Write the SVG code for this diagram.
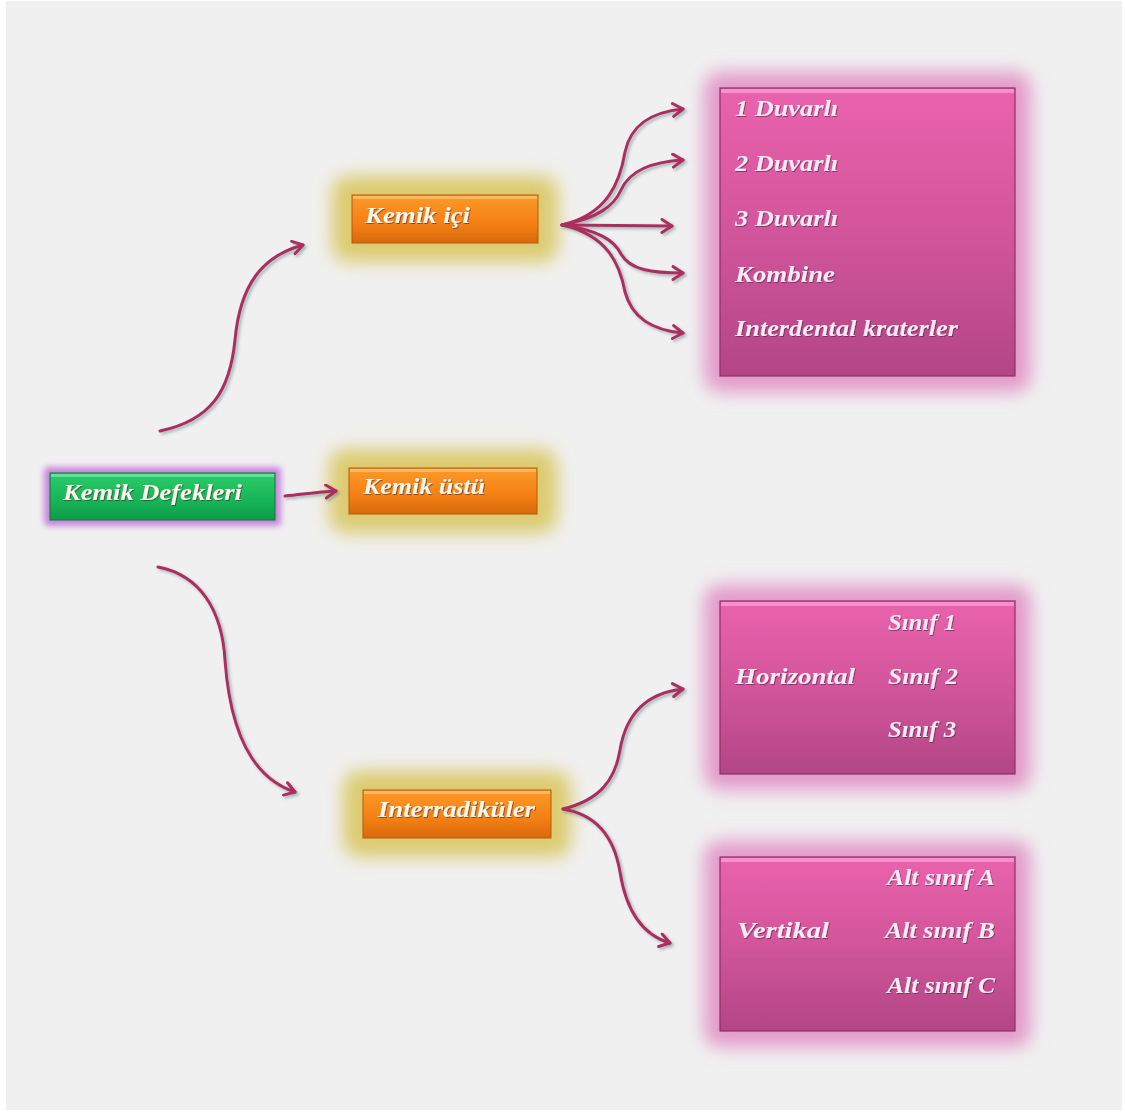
<svg xmlns="http://www.w3.org/2000/svg" width="1125" height="1113" viewBox="0 0 1125 1113">
<defs>
<style>
.t{font-family:"Liberation Serif","Times New Roman",serif;font-style:italic;font-weight:bold;font-size:23px;fill:#fff6ec;filter:url(#tsh)}
.tp{fill:#fdeaf6}
.c{fill:none;stroke:#ab2f5e;stroke-width:3;stroke-linecap:round;marker-end:url(#ah)}
</style>
<linearGradient id="gPink" x1="0" y1="0" x2="0" y2="1">
<stop offset="0" stop-color="#ea62ad"/>
<stop offset="0.5" stop-color="#d2559b"/>
<stop offset="1" stop-color="#b24685"/>
</linearGradient>
<linearGradient id="gOr" x1="0" y1="0" x2="0" y2="1">
<stop offset="0" stop-color="#fb9a2a"/>
<stop offset="0.6" stop-color="#f47f14"/>
<stop offset="1" stop-color="#d86a0c"/>
</linearGradient>
<linearGradient id="gGr" x1="0" y1="0" x2="0" y2="1">
<stop offset="0" stop-color="#2ccb6a"/>
<stop offset="0.6" stop-color="#16b457"/>
<stop offset="1" stop-color="#0f9a48"/>
</linearGradient>
<filter id="glow" x="-40%" y="-80%" width="180%" height="260%">
<feGaussianBlur stdDeviation="9"/>
</filter>
<filter id="glowS" x="-10%" y="-30%" width="120%" height="160%">
<feGaussianBlur stdDeviation="3"/>
</filter>
<filter id="tsh" x="-10%" y="-30%" width="120%" height="160%">
<feDropShadow dx="1" dy="1" stdDeviation="0.6" flood-color="#402030" flood-opacity="0.55"/>
</filter>
<filter id="csh" x="-10%" y="-10%" width="120%" height="120%">
<feDropShadow dx="2" dy="2" stdDeviation="1.5" flood-color="#406a6a" flood-opacity="0.45"/>
</filter>
<marker id="ah" markerUnits="userSpaceOnUse" viewBox="0 0 16 16" markerWidth="16" markerHeight="16" refX="13" refY="8" orient="auto">
<path d="M3,1.5 L13,8 L3,14.5" fill="none" stroke="#ab2f5e" stroke-width="3" stroke-linecap="round" stroke-linejoin="round"/>
</marker>
</defs>
<rect x="0" y="0" width="1125" height="1113" fill="#ffffff"/>
<rect x="6" y="1" width="1116" height="1109" fill="#f0f0f0"/>

<g id="n-root">
<rect x="44" y="467" width="237" height="59" rx="4" fill="#c784dc" filter="url(#glowS)"/>
<rect x="50" y="473" width="225" height="47" fill="url(#gGr)" stroke="#0c7a38" stroke-width="1"/>
<rect x="51" y="474" width="223" height="3" fill="#6fe9a3" opacity="0.8"/>
<text class="t" x="63" y="500" textLength="179" lengthAdjust="spacingAndGlyphs">Kemik Defekleri</text>
</g>

<g id="n-ici">
<rect x="332" y="176" width="226" height="86" rx="16" fill="#dccb6e" filter="url(#glow)"/>
<rect x="352" y="195" width="186" height="48" fill="url(#gOr)" stroke="#b65a0a" stroke-width="1"/>
<rect x="353" y="196" width="184" height="3" fill="#ffc070" opacity="0.8"/>
<text class="t" x="365" y="223" textLength="105" lengthAdjust="spacingAndGlyphs">Kemik içi</text>
</g>

<g id="n-ustu">
<rect x="329" y="449" width="228" height="84" rx="16" fill="#dccb6e" filter="url(#glow)"/>
<rect x="349" y="468" width="188" height="46" fill="url(#gOr)" stroke="#b65a0a" stroke-width="1"/>
<rect x="350" y="469" width="186" height="3" fill="#ffc070" opacity="0.8"/>
<text class="t" x="363" y="494" textLength="122" lengthAdjust="spacingAndGlyphs">Kemik üstü</text>
</g>

<g id="n-inter">
<rect x="343" y="771" width="228" height="86" rx="16" fill="#dccb6e" filter="url(#glow)"/>
<rect x="363" y="790" width="188" height="48" fill="url(#gOr)" stroke="#b65a0a" stroke-width="1"/>
<rect x="364" y="791" width="186" height="3" fill="#ffc070" opacity="0.8"/>
<text class="t" x="378" y="817" textLength="157" lengthAdjust="spacingAndGlyphs">Interradiküler</text>
</g>

<g id="n-duvar">
<rect x="704" y="72" width="327" height="320" rx="16" fill="#e39acb" filter="url(#glow)"/>
<rect x="720" y="88" width="295" height="288" fill="url(#gPink)" stroke="#8e2f63" stroke-width="1.2"/>
<rect x="721" y="89" width="293" height="4" fill="#f890cc"/>
<text class="t tp" x="735" y="116" textLength="103" lengthAdjust="spacingAndGlyphs">1 Duvarlı</text>
<text class="t tp" x="735" y="171" textLength="103" lengthAdjust="spacingAndGlyphs">2 Duvarlı</text>
<text class="t tp" x="735" y="226" textLength="103" lengthAdjust="spacingAndGlyphs">3 Duvarlı</text>
<text class="t tp" x="735" y="282" textLength="100" lengthAdjust="spacingAndGlyphs">Kombine</text>
<text class="t tp" x="735" y="336" textLength="223" lengthAdjust="spacingAndGlyphs">Interdental kraterler</text>
</g>

<g id="n-horizontal">
<rect x="704" y="585" width="327" height="205" rx="16" fill="#e39acb" filter="url(#glow)"/>
<rect x="720" y="601" width="295" height="173" fill="url(#gPink)" stroke="#8e2f63" stroke-width="1.2"/>
<rect x="721" y="602" width="293" height="4" fill="#f890cc"/>
<text class="t tp" x="735" y="684" textLength="120" lengthAdjust="spacingAndGlyphs">Horizontal</text>
<text class="t tp" x="888" y="630" textLength="68" lengthAdjust="spacingAndGlyphs">Sınıf 1</text>
<text class="t tp" x="888" y="684" textLength="70" lengthAdjust="spacingAndGlyphs">Sınıf 2</text>
<text class="t tp" x="888" y="737" textLength="68" lengthAdjust="spacingAndGlyphs">Sınıf 3</text>
</g>

<g id="n-vertikal">
<rect x="704" y="841" width="327" height="206" rx="16" fill="#e39acb" filter="url(#glow)"/>
<rect x="720" y="857" width="295" height="174" fill="url(#gPink)" stroke="#8e2f63" stroke-width="1.2"/>
<rect x="721" y="858" width="293" height="4" fill="#f890cc"/>
<text class="t tp" x="737" y="938" textLength="92" lengthAdjust="spacingAndGlyphs">Vertikal</text>
<text class="t tp" x="887" y="885" textLength="108" lengthAdjust="spacingAndGlyphs">Alt sınıf A</text>
<text class="t tp" x="885" y="938" textLength="110" lengthAdjust="spacingAndGlyphs">Alt sınıf B</text>
<text class="t tp" x="887" y="993" textLength="108" lengthAdjust="spacingAndGlyphs">Alt sınıf C</text>
</g>

<g id="connectors" filter="url(#csh)">
<path class="c" d="M160,431 C212,420 230,390 235,340 C240,285 262,256 303,245"/>
<path class="c" d="M158,567 C200,575 222,610 225,660 C230,730 252,778 295,792"/>
<path class="c" d="M285,496 C305,494 318,492 336,491"/>
<path class="c" d="M562,225 C608,214 620,182 625,152 C631,124 652,112 683,109"/>
<path class="c" d="M562,225 C598,218 614,206 621,190 C630,170 652,162 683,160"/>
<path class="c" d="M562,225 L672,226"/>
<path class="c" d="M562,225 C598,230 614,240 621,254 C630,270 652,273 683,273"/>
<path class="c" d="M562,225 C608,235 620,265 625,292 C632,318 652,330 683,333"/>
<path class="c" d="M563,809 C600,800 615,780 620,750 C626,714 646,693 683,689"/>
<path class="c" d="M563,809 C600,815 615,842 620,872 C626,910 642,935 670,943"/>
</g>
</svg>
